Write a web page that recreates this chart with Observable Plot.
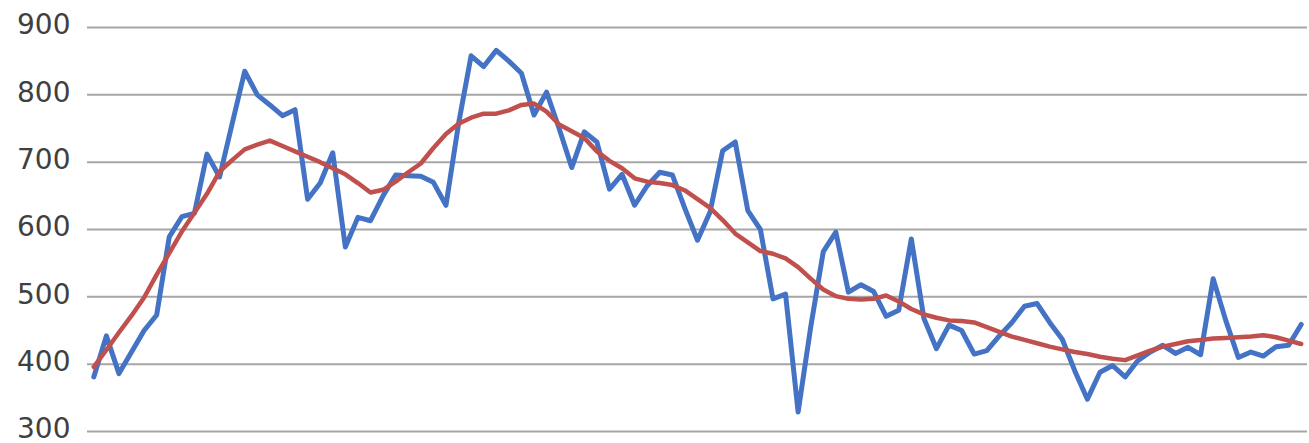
<!DOCTYPE html>
<html><head><meta charset="utf-8">
<script src="https://cdn.jsdelivr.net/npm/d3@7"></script>
<script src="https://cdn.jsdelivr.net/npm/@observablehq/plot@0.6"></script>
<style>html,body{margin:0;padding:0;background:#fff;}</style>
</head><body><div id="chart"></div>
<script>
const price = [381,442,386,418,450,473,589,619,624,712,678,757,835,800,785,769,778,645,669,714,
574,618,613,650,681,680,679,670,636,757,858,842,866,850,832,770,804,750,692,745,
730,660,682,636,665,685,681,631,584,626,717,730,628,600,497,504,329,455,567,596,
507,518,508,471,480,586,468,423,458,450,415,420,442,462,486,490,462,437,390,348,
388,398,381,405,418,428,416,425,414,527,465,410,418,412,426,428,459];
const average = [396,421,447,472,499,533,565,597,625,653,686,703,719,726,732,724,716,708,700,691,
682,669,655,659,671,685,698,721,742,757,766,772,772,777,785,787,775,756,746,736,
716,702,691,676,671,669,666,658,645,632,614,594,581,568,564,557,544,527,511,501,
497,496,497,502,493,482,474,469,465,464,462,455,448,441,436,431,426,422,418,415,
411,408,406,413,420,426,430,434,436,438,439,440,441,443,440,435,430];
const yTicks = [300,400,500,600,700,800,900];

const rows = price.map((v, i) => ({i, price: v, avg: average[i]}));

const chart = Plot.plot({
  width: 1309, height: 443,
  marginLeft: 87, marginRight: 2, marginTop: 27, marginBottom: 12,
  x: {domain: [-0.5, price.length - 0.5], axis: null},
  y: {domain: [300, 900]},
  style: {fontFamily: "'DejaVu Sans', 'Liberation Sans', Arial, sans-serif", background: "#fff", overflow: "visible"},
  marks: [
    Plot.ruleY(yTicks, {stroke: "#a6a6a6", strokeWidth: 2}),
    Plot.axisY({ticks: yTicks, tickSize: 0, tickPadding: 17, fontSize: 28, dy: -2, fill: "#404040", label: null, tickFormat: d => String(d)}),
    Plot.line(rows, {x: "i", y: "price", stroke: "#4472c4", strokeWidth: 5}),
    Plot.line(rows, {x: "i", y: "avg", stroke: "#c0504d", strokeWidth: 4.5})
  ]
});
document.getElementById("chart").appendChild(chart);
</script>
</body></html>
